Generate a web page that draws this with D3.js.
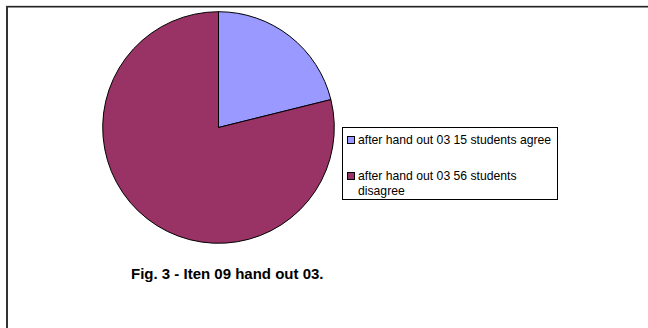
<!DOCTYPE html>
<html>
<head>
<meta charset="utf-8">
<script src="https://cdn.jsdelivr.net/npm/d3@7"></script>
<style>
  body { margin: 0; background: #fff; }
  text { font-family: "Liberation Sans", Arial, sans-serif; }
</style>
</head>
<body>
<div class="chart"></div>
<script>
// data
const labels = ["after hand out 03 15 students agree", "after hand out 03 56 students disagree"];
const legendLines = [["after hand out 03 15 students agree"], ["after hand out 03 56 students", "disagree"]];
const values = [15, 56];
const colors = ["#9999FF", "#993366"];
const caption = "Fig. 3 - Iten 09 hand out 03.";

const width = 648;
const height = 328;

const svg = d3.select(".chart").append("svg")
    .attr("width", width)
    .attr("height", height);

// frame lines (top + left only are visible)
svg.append("line")
    .attr("x1", 6).attr("y1", 6).attr("x2", width).attr("y2", 6)
    .attr("stroke", "#bbb").attr("stroke-width", 1);
svg.append("line")
    .attr("x1", 6).attr("y1", 6.8).attr("x2", width).attr("y2", 6.8)
    .attr("stroke", "#222").attr("stroke-width", 1.4);
svg.append("line")
    .attr("x1", 7).attr("y1", 6).attr("x2", 7).attr("y2", height)
    .attr("stroke", "#333").attr("stroke-width", 2);

// pie
const cx = 218.5, cy = 127.5, r = 115.8;
const pie = d3.pie().sort(null).value(d => d);
const arc = d3.arc().innerRadius(0).outerRadius(r);

const g = svg.append("g").attr("transform", "translate(" + cx + "," + cy + ")");
g.selectAll("path")
    .data(pie(values))
    .enter()
    .append("path")
    .attr("d", arc)
    .attr("fill", (d, i) => colors[i])
    .attr("stroke", "#000")
    .attr("stroke-width", 1);

// legend
const legend = svg.append("g").attr("transform", "translate(342,127)");
legend.append("rect")
    .attr("x", 0.5).attr("y", 0.5)
    .attr("width", 215).attr("height", 72)
    .attr("fill", "#fff")
    .attr("stroke", "#000")
    .attr("stroke-width", 1);

const itemY = [17, 53];
legendLines.forEach((lines, i) => {
    legend.append("rect")
        .attr("x", 5.5).attr("y", itemY[i] - 7.5)
        .attr("width", 7).attr("height", 7)
        .attr("fill", colors[i])
        .attr("stroke", "#000")
        .attr("stroke-width", 1);
    lines.forEach((ln, j) => {
        legend.append("text")
            .attr("x", 16)
            .attr("y", itemY[i] + j * 15)
            .style("font-size", "12.2px")
            .attr("fill", "#000")
            .text(ln);
    });
});

// caption
svg.append("text")
    .attr("x", 131)
    .attr("y", 279)
    .style("font-size", "15px")
    .style("font-weight", "bold")
    .attr("fill", "#000")
    .text(caption);
</script>
</body>
</html>
